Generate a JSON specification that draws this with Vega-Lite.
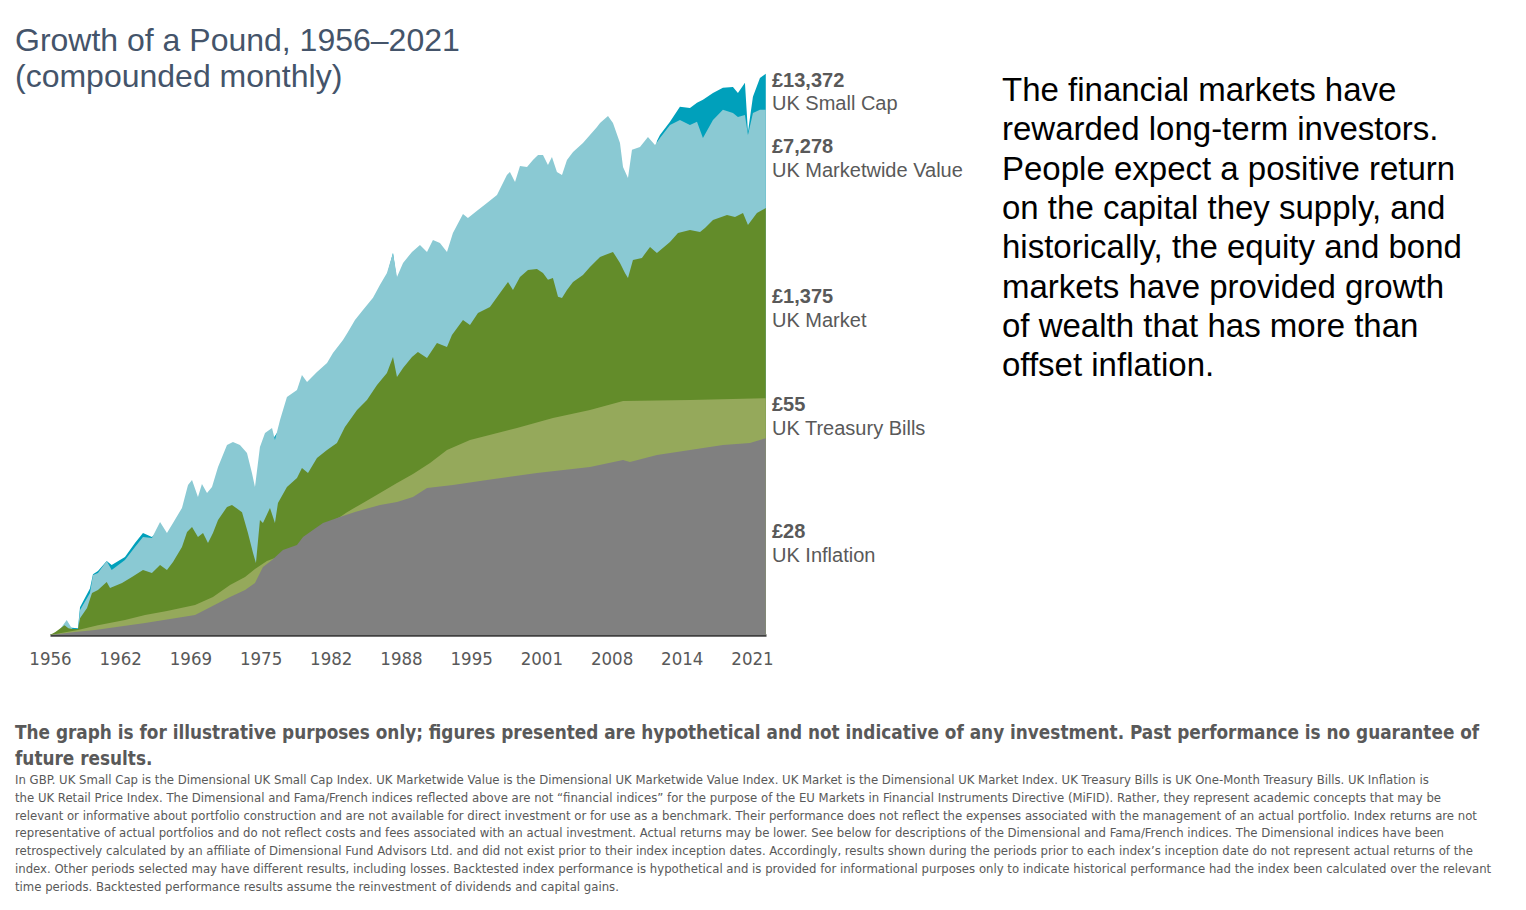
{
  "$schema": "https://vega.github.io/schema/vega-lite/v6.json",
  "width": 716,
  "height": 564,
  "autosize": {"type": "none"},
  "padding": {"left": 50, "top": 71, "right": 760, "bottom": 275},
  "background": "#ffffff",
  "config": {"view": {"stroke": null}, "font": "Liberation Sans"},
  "datasets": {
    "sc": [{"t":1956,"v":1},{"t":1956.46,"v":1.0},{"t":1956.93,"v":1.05},{"t":1957.55,"v":1.15},{"t":1958.04,"v":1.13},{"t":1958.59,"v":1.12},{"t":1958.78,"v":1.6},{"t":1959.7,"v":2.2},{"t":1959.98,"v":2.8},{"t":1960.44,"v":2.95},{"t":1961.25,"v":3.5},{"t":1961.71,"v":3.27},{"t":1962.94,"v":3.75},{"t":1963.87,"v":4.75},{"t":1964.61,"v":5.62},{"t":1965.44,"v":5.26},{"t":1966.19,"v":6.0},{"t":1966.83,"v":5.4},{"t":1967.39,"v":6.2},{"t":1968.22,"v":8.0},{"t":1968.78,"v":11.5},{"t":1969.15,"v":12.5},{"t":1969.7,"v":9.5},{"t":1970.54,"v":9.8},{"t":1971.0,"v":11},{"t":1971.56,"v":15.5},{"t":1972.39,"v":22},{"t":1972.94,"v":23},{"t":1973.78,"v":19},{"t":1974.24,"v":16},{"t":1974.98,"v":9.5},{"t":1975.44,"v":19},{"t":1976.56,"v":27},{"t":1977.3,"v":33},{"t":1978.87,"v":55},{"t":1980.72,"v":75},{"t":1981.65,"v":88},{"t":1983.13,"v":132},{"t":1984.98,"v":220},{"t":1986.56,"v":345},{"t":1987.2,"v":440},{"t":1987.76,"v":644},{"t":1988.13,"v":400},{"t":1989.52,"v":560},{"t":1990.91,"v":520},{"t":1992.76,"v":480},{"t":1993.31,"v":700},{"t":1994.24,"v":950},{"t":1996.46,"v":1100},{"t":1998.31,"v":1500},{"t":1999.06,"v":1300},{"t":2000.17,"v":1900},{"t":2001.19,"v":2000},{"t":2002.94,"v":1500},{"t":2003.41,"v":1350},{"t":2004.43,"v":2200},{"t":2006.0,"v":3200},{"t":2007.67,"v":4300},{"t":2008.78,"v":2600},{"t":2009.52,"v":1600},{"t":2010.63,"v":3100},{"t":2011.37,"v":3800},{"t":2012.02,"v":3600},{"t":2012.2,"v":4280},{"t":2012.48,"v":4748},{"t":2013.41,"v":5918},{"t":2014.33,"v":7628},{"t":2015.26,"v":7499},{"t":2015.91,"v":8163},{"t":2016.46,"v":8588},{"t":2017.39,"v":9667},{"t":2018.31,"v":10522},{"t":2019.24,"v":10700},{"t":2019.7,"v":9667},{"t":2020.35,"v":11452},{"t":2020.63,"v":4995},{"t":2021.09,"v":9036},{"t":2021.74,"v":12462},{"t":2022.28,"v":13372}],
    "mv": [{"t":1956,"v":1},{"t":1956.46,"v":1.03},{"t":1956.93,"v":1.1},{"t":1957.55,"v":1.29},{"t":1958.04,"v":1.11},{"t":1958.59,"v":1.09},{"t":1958.78,"v":1.53},{"t":1959.7,"v":2.04},{"t":1959.98,"v":2.76},{"t":1960.44,"v":2.86},{"t":1961.25,"v":3.5},{"t":1961.71,"v":3.0},{"t":1962.94,"v":3.56},{"t":1963.87,"v":4.44},{"t":1964.61,"v":5.26},{"t":1965.44,"v":5.17},{"t":1966.19,"v":6.77},{"t":1966.83,"v":5.62},{"t":1967.39,"v":6.66},{"t":1968.22,"v":8.59},{"t":1968.78,"v":12.67},{"t":1969.15,"v":13.8},{"t":1969.7,"v":10.34},{"t":1970.07,"v":12.89},{"t":1970.54,"v":11.07},{"t":1971.0,"v":12.25},{"t":1971.56,"v":17.19},{"t":1972.39,"v":24.95},{"t":1972.94,"v":26.25},{"t":1973.59,"v":24.95},{"t":1974.24,"v":21.79},{"t":1974.7,"v":15.53},{"t":1974.98,"v":12.25},{"t":1975.44,"v":24.12},{"t":1975.91,"v":30.58},{"t":1976.56,"v":33.28},{"t":1976.83,"v":27.15},{"t":1977.3,"v":38.1},{"t":1977.94,"v":56.2},{"t":1978.87,"v":63.3},{"t":1979.33,"v":81.6},{"t":1979.8,"v":72.5},{"t":1980.72,"v":85.9},{"t":1981.65,"v":100},{"t":1982.2,"v":118.4},{"t":1983.13,"v":147.6},{"t":1983.59,"v":169},{"t":1984.24,"v":207},{"t":1984.98,"v":245},{"t":1985.91,"v":301},{"t":1986.56,"v":375},{"t":1987.2,"v":459},{"t":1987.76,"v":644},{"t":1988.13,"v":429},{"t":1988.69,"v":544},{"t":1989.52,"v":655},{"t":1990.26,"v":737},{"t":1990.91,"v":655},{"t":1991.46,"v":802},{"t":1992.11,"v":763},{"t":1992.76,"v":655},{"t":1993.31,"v":903},{"t":1994.24,"v":1246},{"t":1994.7,"v":1165},{"t":1995.63,"v":1334},{"t":1996.46,"v":1502},{"t":1997.39,"v":1719},{"t":1998.31,"v":2412},{"t":1998.59,"v":2537},{"t":1999.06,"v":2142},{"t":1999.52,"v":2809},{"t":2000.17,"v":2762},{"t":2000.72,"v":3109},{"t":2001.19,"v":3384},{"t":2001.65,"v":3384},{"t":2002.11,"v":2857},{"t":2002.48,"v":3271},{"t":2002.94,"v":2537},{"t":2003.41,"v":2412},{"t":2003.87,"v":3109},{"t":2004.43,"v":3561},{"t":2005.35,"v":4147},{"t":2006.0,"v":4748},{"t":2006.65,"v":5437},{"t":2006.93,"v":5817},{"t":2007.67,"v":6549},{"t":2008.13,"v":5817},{"t":2008.78,"v":4147},{"t":2009.06,"v":2762},{"t":2009.52,"v":2293},{"t":2009.89,"v":3684},{"t":2010.63,"v":3875},{"t":2011.37,"v":4590},{"t":2012.02,"v":4009},{"t":2012.48,"v":4511},{"t":2013.41,"v":5623},{"t":2014.33,"v":6121},{"t":2015.26,"v":5623},{"t":2015.91,"v":5918},{"t":2016.46,"v":4511},{"t":2017.39,"v":6121},{"t":2018.31,"v":7251},{"t":2019.24,"v":6891},{"t":2019.7,"v":6439},{"t":2020.35,"v":6660},{"t":2020.63,"v":4748},{"t":2021.09,"v":6891},{"t":2021.74,"v":7251},{"t":2022.28,"v":7278}],
    "m": [{"t":1956,"v":1},{"t":1956.5,"v":1.05},{"t":1957.35,"v":1.18},{"t":1957.7,"v":1.12},{"t":1958.04,"v":1.107},{"t":1958.59,"v":1.107},{"t":1958.78,"v":1.33},{"t":1959.43,"v":1.58},{"t":1959.89,"v":2.04},{"t":1960.44,"v":2.14},{"t":1961.25,"v":2.45},{"t":1961.56,"v":2.22},{"t":1962.67,"v":2.41},{"t":1963.59,"v":2.67},{"t":1964.61,"v":3.0},{"t":1965.44,"v":2.86},{"t":1966.19,"v":3.27},{"t":1966.83,"v":3.0},{"t":1967.39,"v":3.44},{"t":1968.22,"v":4.44},{"t":1968.69,"v":5.72},{"t":1969.15,"v":6.23},{"t":1969.7,"v":5.26},{"t":1970.17,"v":5.62},{"t":1970.63,"v":4.75},{"t":1971.09,"v":5.62},{"t":1971.56,"v":7.0},{"t":1972.39,"v":8.74},{"t":1972.85,"v":9.04},{"t":1973.78,"v":8.0},{"t":1974.33,"v":5.62},{"t":1974.8,"v":4.0},{"t":1975.07,"v":3.38},{"t":1975.44,"v":7.0},{"t":1975.72,"v":6.66},{"t":1976.37,"v":8.59},{"t":1976.83,"v":6.66},{"t":1977.11,"v":9.35},{"t":1977.94,"v":12.25},{"t":1978.87,"v":14.27},{"t":1979.33,"v":16.9},{"t":1979.89,"v":15.53},{"t":1980.72,"v":20.0},{"t":1981.65,"v":22.93},{"t":1982.57,"v":25.81},{"t":1983.31,"v":33.84},{"t":1984.43,"v":45.1},{"t":1985.35,"v":53.45},{"t":1986.28,"v":68.9},{"t":1987.2,"v":84.4},{"t":1987.76,"v":110.7},{"t":1988.13,"v":78.9},{"t":1988.69,"v":91.9},{"t":1989.52,"v":110.7},{"t":1990.07,"v":120.5},{"t":1990.91,"v":108.8},{"t":1991.83,"v":140.3},{"t":1992.76,"v":131.1},{"t":1993.22,"v":160.7},{"t":1994.24,"v":207},{"t":1994.89,"v":190},{"t":1995.63,"v":233},{"t":1996.74,"v":258},{"t":1997.67,"v":327},{"t":1998.41,"v":394},{"t":1998.87,"v":344},{"t":1999.52,"v":429},{"t":2000.26,"v":483},{"t":2001.09,"v":491},{"t":2001.65,"v":459},{"t":2002.11,"v":408},{"t":2002.57,"v":422},{"t":2003.04,"v":306},{"t":2003.41,"v":300},{"t":2003.87,"v":344},{"t":2004.43,"v":394},{"t":2005.35,"v":444},{"t":2006.0,"v":508},{"t":2006.93,"v":602},{"t":2008.13,"v":655},{"t":2008.78,"v":544},{"t":2009.24,"v":459},{"t":2009.52,"v":422},{"t":2009.98,"v":572},{"t":2010.81,"v":592},{"t":2011.56,"v":713},{"t":2012.2,"v":644},{"t":2013.41,"v":776},{"t":2014.15,"v":903},{"t":2015.26,"v":950},{"t":2016.19,"v":919},{"t":2016.65,"v":983},{"t":2017.39,"v":1126},{"t":2018.69,"v":1225},{"t":2019.43,"v":1184},{"t":2020.17,"v":1268},{"t":2020.63,"v":1034},{"t":2021.46,"v":1268},{"t":2022.28,"v":1375}],
    "tb": [{"t":1956,"v":1},{"t":1958.59,"v":1.09},{"t":1960.44,"v":1.18},{"t":1962.94,"v":1.29},{"t":1964.8,"v":1.4},{"t":1966.83,"v":1.5},{"t":1969.43,"v":1.66},{"t":1971.09,"v":1.9},{"t":1972.67,"v":2.33},{"t":1974.06,"v":2.67},{"t":1974.98,"v":3.06},{"t":1976.09,"v":3.5},{"t":1977.3,"v":3.81},{"t":1978.87,"v":4.44},{"t":1980.35,"v":5.62},{"t":1981.93,"v":6.77},{"t":1982.85,"v":7.37},{"t":1983.5,"v":8.0},{"t":1984.98,"v":9.35},{"t":1986.56,"v":11.07},{"t":1988.13,"v":13.11},{"t":1989.61,"v":15.27},{"t":1991.19,"v":18.4},{"t":1992.76,"v":22.93},{"t":1994.89,"v":27.15},{"t":1999.24,"v":33.28},{"t":2002.57,"v":39.4},{"t":2006.0,"v":45.1},{"t":2009.06,"v":52.55},{"t":2015.26,"v":53.45},{"t":2022.28,"v":55}],
    "inf": [{"t":1956,"v":1},{"t":1958.31,"v":1.05},{"t":1960.17,"v":1.09},{"t":1964.8,"v":1.225},{"t":1969.43,"v":1.4},{"t":1972.67,"v":1.9},{"t":1974.06,"v":2.14},{"t":1974.98,"v":2.41},{"t":1975.72,"v":3.16},{"t":1976.56,"v":3.56},{"t":1977.57,"v":4.22},{"t":1978.87,"v":4.59},{"t":1979.43,"v":5.26},{"t":1980.35,"v":5.92},{"t":1981.28,"v":6.66},{"t":1982.85,"v":7.37},{"t":1984.24,"v":8.03},{"t":1986.56,"v":9.04},{"t":1988.13,"v":9.5},{"t":1989.61,"v":10.34},{"t":1990.91,"v":12.05},{"t":1993.31,"v":12.67},{"t":1996.46,"v":13.8},{"t":2001.09,"v":15.53},{"t":2006.0,"v":17.19},{"t":2009.06,"v":19.36},{"t":2009.7,"v":18.71},{"t":2012.2,"v":21.06},{"t":2015.26,"v":22.93},{"t":2018.31,"v":24.95},{"t":2020.81,"v":25.81},{"t":2022.28,"v":28}]
  },
  "encoding": {
    "x": {"field": "t", "type": "quantitative", "scale": {"domain": [1956, 2022.3], "nice": false, "zero": false},
      "axis": {"values": [1956, 1962.5, 1969, 1975.5, 1982, 1988.5, 1995, 2001.5, 2008, 2014.5, 2021], "labelExpr": "floor(datum.value)", "title": null, "grid": false, "ticks": false, "tickSize": 0, "domainColor": "#404040", "domainWidth": 2.5, "labelFont": "DejaVu Sans Condensed, sans-serif", "labelFontSize": 18.5, "labelColor": "#595959", "labelPadding": 14, "labelFlush": false, "labelOverlap": false, "labelBound": false}},
    "y": {"field": "v", "type": "quantitative", "scale": {"type": "log", "domain": [1, 14000], "nice": false}, "axis": null}
  },
  "layer": [
    {"data": {"name": "sc"}, "mark": {"type": "area", "color": "#00A0BB", "opacity": 1}, "encoding": {"y2": {"datum": 1}}},
    {"data": {"name": "mv"}, "mark": {"type": "area", "color": "#8AC9D3", "opacity": 1}, "encoding": {"y2": {"datum": 1}}},
    {"data": {"name": "m"}, "mark": {"type": "area", "color": "#638C2A", "opacity": 1}, "encoding": {"y2": {"datum": 1}}},
    {"data": {"name": "tb"}, "mark": {"type": "area", "color": "#95A95B", "opacity": 1}, "encoding": {"y2": {"datum": 1}}},
    {"data": {"name": "inf"}, "mark": {"type": "area", "color": "#808080", "opacity": 1}, "encoding": {"y2": {"datum": 1}}},
    {"data": {"values": [{}]}, "mark": {"type": "text", "align": "left", "baseline": "alphabetic", "fontSize": 32, "lineHeight": 36, "color": "#44546A", "font": "Liberation Sans"},
      "encoding": {"x": {"value": -35}, "y": {"value": -20}, "text": {"value": ["Growth of a Pound, 1956–2021", "(compounded monthly)"]}}},
    {"data": {"values": [{}]}, "mark": {"type": "text", "align": "left", "baseline": "alphabetic", "fontSize": 33, "lineHeight": 39.3, "color": "#000000", "font": "Liberation Sans"},
      "encoding": {"x": {"value": 952}, "y": {"value": 30}, "text": {"value": ["The financial markets have", "rewarded long-term investors.", "People expect a positive return", "on the capital they supply, and", "historically, the equity and bond", "markets have provided growth", "of wealth that has more than", "offset inflation."]}}},
    {"data": {"values": [{}]}, "mark": {"type": "text", "align": "left", "baseline": "alphabetic", "fontSize": 20, "fontWeight": "bold", "color": "#595959", "font": "Liberation Sans"},
      "encoding": {"x": {"value": 722}, "y": {"value": 16}, "text": {"value": "£13,372"}}},
    {"data": {"values": [{}]}, "mark": {"type": "text", "align": "left", "baseline": "alphabetic", "fontSize": 20, "color": "#595959", "font": "Liberation Sans"},
      "encoding": {"x": {"value": 722}, "y": {"value": 39}, "text": {"value": "UK Small Cap"}}},
    {"data": {"values": [{}]}, "mark": {"type": "text", "align": "left", "baseline": "alphabetic", "fontSize": 20, "fontWeight": "bold", "color": "#595959", "font": "Liberation Sans"},
      "encoding": {"x": {"value": 722}, "y": {"value": 82}, "text": {"value": "£7,278"}}},
    {"data": {"values": [{}]}, "mark": {"type": "text", "align": "left", "baseline": "alphabetic", "fontSize": 20, "color": "#595959", "font": "Liberation Sans"},
      "encoding": {"x": {"value": 722}, "y": {"value": 106}, "text": {"value": "UK Marketwide Value"}}},
    {"data": {"values": [{}]}, "mark": {"type": "text", "align": "left", "baseline": "alphabetic", "fontSize": 20, "fontWeight": "bold", "color": "#595959", "font": "Liberation Sans"},
      "encoding": {"x": {"value": 722}, "y": {"value": 232}, "text": {"value": "£1,375"}}},
    {"data": {"values": [{}]}, "mark": {"type": "text", "align": "left", "baseline": "alphabetic", "fontSize": 20, "color": "#595959", "font": "Liberation Sans"},
      "encoding": {"x": {"value": 722}, "y": {"value": 256}, "text": {"value": "UK Market"}}},
    {"data": {"values": [{}]}, "mark": {"type": "text", "align": "left", "baseline": "alphabetic", "fontSize": 20, "fontWeight": "bold", "color": "#595959", "font": "Liberation Sans"},
      "encoding": {"x": {"value": 722}, "y": {"value": 340}, "text": {"value": "£55"}}},
    {"data": {"values": [{}]}, "mark": {"type": "text", "align": "left", "baseline": "alphabetic", "fontSize": 20, "color": "#595959", "font": "Liberation Sans"},
      "encoding": {"x": {"value": 722}, "y": {"value": 364}, "text": {"value": "UK Treasury Bills"}}},
    {"data": {"values": [{}]}, "mark": {"type": "text", "align": "left", "baseline": "alphabetic", "fontSize": 20, "fontWeight": "bold", "color": "#595959", "font": "Liberation Sans"},
      "encoding": {"x": {"value": 722}, "y": {"value": 467}, "text": {"value": "£28"}}},
    {"data": {"values": [{}]}, "mark": {"type": "text", "align": "left", "baseline": "alphabetic", "fontSize": 20, "color": "#595959", "font": "Liberation Sans"},
      "encoding": {"x": {"value": 722}, "y": {"value": 491}, "text": {"value": "UK Inflation"}}},
    {"data": {"values": [{}]}, "mark": {"type": "text", "align": "left", "baseline": "alphabetic", "fontSize": 18.8, "lineHeight": 26, "fontWeight": "bold", "color": "#595959", "font": "DejaVu Sans Condensed, sans-serif"},
      "encoding": {"x": {"value": -35}, "y": {"value": 668}, "text": {"value": ["The graph is for illustrative purposes only; figures presented are hypothetical and not indicative of any investment. Past performance is no guarantee of", "future results."]}}},
    {"data": {"values": [{}]}, "mark": {"type": "text", "align": "left", "baseline": "alphabetic", "fontSize": 13, "lineHeight": 17.8, "color": "#595959", "font": "DejaVu Sans Condensed, sans-serif"},
      "encoding": {"x": {"value": -35}, "y": {"value": 713}, "text": {"value": ["In GBP. UK Small Cap is the Dimensional UK Small Cap Index. UK Marketwide Value is the Dimensional UK Marketwide Value Index. UK Market is the Dimensional UK Market Index. UK Treasury Bills is UK One-Month Treasury Bills. UK Inflation is", "the UK Retail Price Index. The Dimensional and Fama/French indices reflected above are not “financial indices” for the purpose of the EU Markets in Financial Instruments Directive (MiFID). Rather, they represent academic concepts that may be", "relevant or informative about portfolio construction and are not available for direct investment or for use as a benchmark. Their performance does not reflect the expenses associated with the management of an actual portfolio. Index returns are not", "representative of actual portfolios and do not reflect costs and fees associated with an actual investment. Actual returns may be lower. See below for descriptions of the Dimensional and Fama/French indices. The Dimensional indices have been", "retrospectively calculated by an affiliate of Dimensional Fund Advisors Ltd. and did not exist prior to their index inception dates. Accordingly, results shown during the periods prior to each index’s inception date do not represent actual returns of the", "index. Other periods selected may have different results, including losses. Backtested index performance is hypothetical and is provided for informational purposes only to indicate historical performance had the index been calculated over the relevant", "time periods. Backtested performance results assume the reinvestment of dividends and capital gains."]}}}
  ]
}
